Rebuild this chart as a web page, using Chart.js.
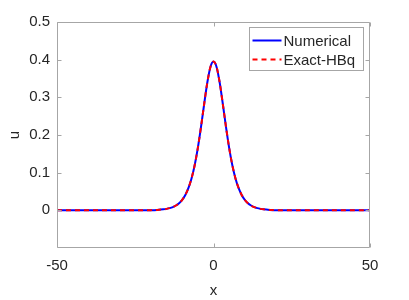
<!DOCTYPE html>
<html>
<head>
<meta charset="utf-8">
<script src="https://cdn.jsdelivr.net/npm/chart.js@4.4.0/dist/chart.umd.min.js"></script>
<style>
  html, body { margin: 0; padding: 0; background: #fff; }
  #wrap { width: 409px; height: 300px; }
</style>
</head>
<body>
<div id="wrap"><canvas id="wave"></canvas></div>
<script>
const xs = [-50, -40, -30, -25, -20, -18, -16, -15, -14, -13, -12, -11, -10, -9, -8, -7, -6, -5, -4, -3, -2, -1,
            0, 1, 2, 3, 4, 5, 6, 7, 8, 9, 10, 11, 12, 13, 14, 15, 16, 18, 20, 25, 30, 40, 50];
// numerical solution u(x)
const numerical = [0, 0, 0, 0.0001, 0.0005, 0.0012, 0.0026, 0.0039, 0.0058, 0.0086, 0.0128, 0.0189, 0.0279, 0.0409, 0.0595, 0.0854, 0.1205, 0.166, 0.221, 0.281, 0.338, 0.380,
                   0.395, 0.380, 0.338, 0.281, 0.221, 0.166, 0.1205, 0.0854, 0.0595, 0.0409, 0.0279, 0.0189, 0.0128, 0.0086, 0.0058, 0.0039, 0.0026, 0.0012, 0.0005, 0.0001, 0, 0, 0];
// exact HBq solitary wave
const exactHBq = [0, 0, 0, 0.0001, 0.0005, 0.0012, 0.0026, 0.0039, 0.0058, 0.0086, 0.0128, 0.0189, 0.0279, 0.0409, 0.0595, 0.0854, 0.1205, 0.166, 0.221, 0.281, 0.338, 0.380,
                  0.395, 0.380, 0.338, 0.281, 0.221, 0.166, 0.1205, 0.0854, 0.0595, 0.0409, 0.0279, 0.0189, 0.0128, 0.0086, 0.0058, 0.0039, 0.0026, 0.0012, 0.0005, 0.0001, 0, 0, 0];
const xTicks = [-50, 0, 50];
const yTicks = [0, 0.1, 0.2, 0.3, 0.4, 0.5];

const axisGrey = '#a6a6a6';
const textGrey = '#262626';
const font = { family: '"Liberation Sans", Arial, sans-serif', size: 15 };

const toPoints = (ys) => xs.map((x, i) => ({ x: x, y: ys[i] }));

// box, inward ticks and the legend, drawn the matlab way
const matlabBox = {
  id: 'matlabBox',
  afterDatasetsDraw(chart) {
    const { ctx, chartArea: a, scales } = chart;
    const L = Math.round(a.left) + 0.5, R = Math.round(a.right) - 0.5;
    const T = Math.round(a.top) + 0.5, B = Math.round(a.bottom) - 0.5;
    ctx.save();
    ctx.strokeStyle = axisGrey;
    ctx.lineWidth = 1;
    ctx.beginPath();
    ctx.rect(L, T, R - L, B - T);
    const len = 4;
    yTicks.forEach(v => {
      const y = Math.round(scales.y.getPixelForValue(v)) + 0.5;
      ctx.moveTo(L, y); ctx.lineTo(L + len, y);
      ctx.moveTo(R, y); ctx.lineTo(R - len, y);
    });
    xTicks.forEach(v => {
      const x = Math.round(scales.x.getPixelForValue(v)) + 0.5;
      ctx.moveTo(x, B); ctx.lineTo(x, B - len);
      ctx.moveTo(x, T); ctx.lineTo(x, T + len);
    });
    ctx.stroke();

    // legend
    const bw = 114, bh = 43;
    const bx = Math.round(a.right) - 7 - bw + 0.5, by = Math.round(a.top) + 5 + 0.5;
    ctx.fillStyle = '#fff';
    ctx.fillRect(bx, by, bw, bh);
    ctx.strokeStyle = axisGrey;
    ctx.strokeRect(bx, by, bw, bh);
    ctx.font = font.size + 'px ' + font.family;
    ctx.textBaseline = 'middle';
    ctx.textAlign = 'left';
    chart.data.datasets.forEach((ds, i) => {
      const ly = by + 13 + i * 19;
      ctx.beginPath();
      ctx.strokeStyle = ds.borderColor;
      ctx.lineWidth = ds.borderWidth;
      ctx.setLineDash(ds.borderDash || []);
      ctx.moveTo(bx + 3, ly); ctx.lineTo(bx + 32, ly);
      ctx.stroke();
      ctx.setLineDash([]);
      ctx.fillStyle = textGrey;
      ctx.fillText(ds.label, bx + 34, ly + 1);
    });
    ctx.restore();
  }
};

new Chart(document.getElementById('wave'), {
  type: 'line',
  data: {
    datasets: [
      {
        label: 'Numerical',
        data: toPoints(numerical),
        borderColor: '#0000ff',
        borderWidth: 2,
        pointRadius: 0,
        cubicInterpolationMode: 'monotone',
        order: 1
      },
      {
        label: 'Exact-HBq',
        data: toPoints(exactHBq),
        borderColor: '#ff0000',
        borderWidth: 2,
        borderDash: [5, 4],
        pointRadius: 0,
        cubicInterpolationMode: 'monotone',
        order: 0
      }
    ]
  },
  options: {
    responsive: true,
    maintainAspectRatio: false,
    animation: false,
    events: [],
    layout: { padding: { top: 22, right: 39, left: 0, bottom: 0 } },
    plugins: { legend: { display: false }, tooltip: { enabled: false } },
    scales: {
      x: {
        type: 'linear',
        min: -50, max: 50,
        afterBuildTicks: (s) => { s.ticks = xTicks.map(v => ({ value: v })); },
        afterFit: (s) => { s.height = 52; },
        grid: { display: false, drawTicks: false },
        border: { display: false },
        ticks: { color: textGrey, font: font, padding: 9, maxRotation: 0 },
        title: { display: true, text: 'x', color: textGrey, font: font, padding: { top: 2, bottom: 0 } }
      },
      y: {
        type: 'linear',
        min: -0.1, max: 0.5,
        afterBuildTicks: (s) => { s.ticks = yTicks.map(v => ({ value: v })); },
        afterFit: (s) => { s.width = 57; },
        grid: { display: false, drawTicks: false },
        border: { display: false },
        ticks: {
          color: textGrey, font: font, padding: 7,
          callback: (v) => String(Math.round(v * 10) / 10)
        },
        title: { display: true, text: 'u', color: textGrey, font: font, padding: { top: 6, bottom: 0 } }
      }
    }
  },
  plugins: [matlabBox]
});
</script>
</body>
</html>
